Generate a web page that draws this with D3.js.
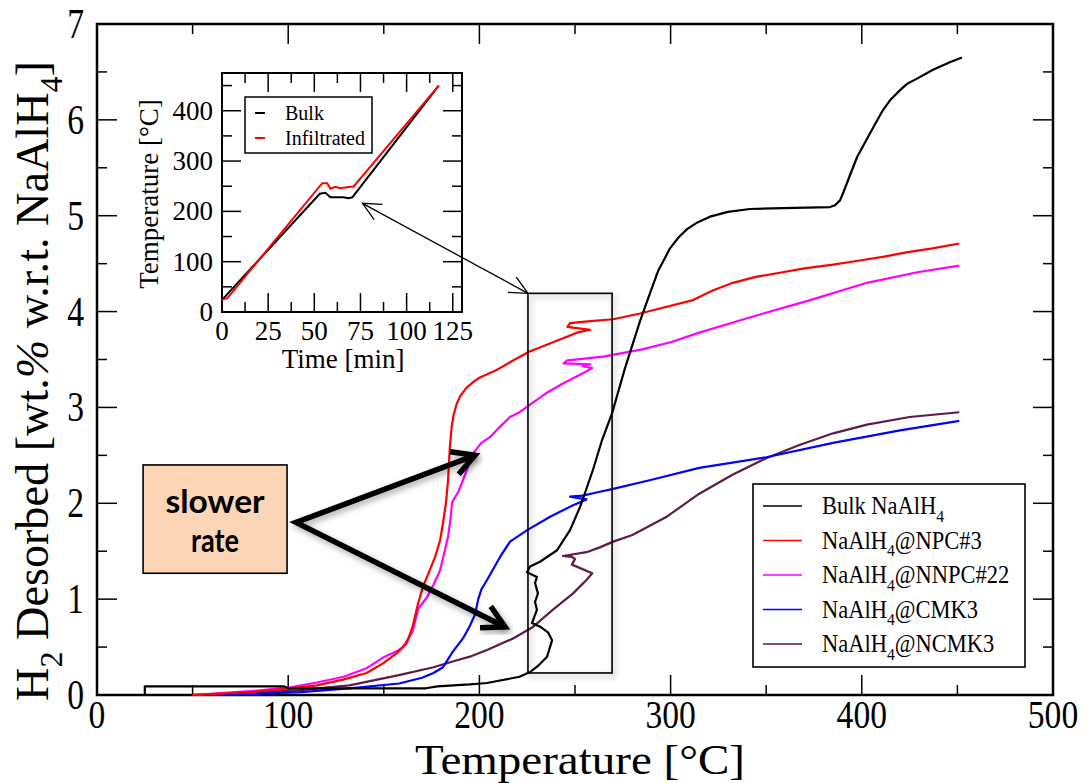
<!DOCTYPE html>
<html><head><meta charset="utf-8">
<script src="https://cdn.jsdelivr.net/npm/d3@7"></script>
<style>body{margin:0;background:#fff;} svg{display:block;}</style>
</head><body><svg id="chart" width="1088" height="783"></svg>
<script>
// ---------------- DATA ----------------
const bulkT = [25,25,98,100,172,178,195,204,221,226.5,231,235.4,238,236,232,227.5,230.1,229.1,230.6,229.1,230.1,224.9,226.5,231.7,240.6,247.4,252.6,256.3,259.4,264,269.4,276,284,289,293.4,299.7,304,308.6,314,320.6,330,341.5,358.8,383.4,386,388.6,390.5,392.8,397.5,404.3,411,415,420,424,428.9,437,446,452.4];
const bulkH = [0,0.09,0.09,0.07,0.07,0.09,0.11,0.125,0.19,0.24,0.31,0.40,0.57,0.65,0.71,0.75,0.89,0.97,1.06,1.17,1.23,1.28,1.34,1.39,1.51,1.72,1.96,2.17,2.35,2.65,2.94,3.40,3.90,4.18,4.42,4.66,4.77,4.86,4.93,4.99,5.04,5.07,5.08,5.09,5.11,5.16,5.25,5.37,5.61,5.86,6.10,6.21,6.31,6.38,6.43,6.52,6.60,6.65];

const npcT = [50,80,101,115,128.7,141,149.6,157,162,165,168,170.5,174,177,179.5,181,182.5,183.6,184.6,185.5,186.5,188,190,193.5,197,200,209,217.6,226,238.5,251,258,246,247.4,258,270,284,298,311.7,322,332.6,344,355.6,370,385,398,411,424,437,451];
const npcH = [0,0.03,0.07,0.10,0.16,0.23,0.33,0.44,0.54,0.71,0.96,1.13,1.30,1.45,1.62,1.80,2.00,2.24,2.60,2.80,2.92,3.03,3.12,3.21,3.27,3.31,3.39,3.49,3.58,3.68,3.78,3.81,3.84,3.88,3.90,3.92,3.98,4.05,4.12,4.22,4.30,4.36,4.40,4.45,4.49,4.53,4.57,4.62,4.66,4.71];

const nnpcT = [50,80,101,115,129,141,149.6,157,160,165,168,172.6,176,179.4,181.5,183.6,185,185.7,189,193.5,196.8,201,205.5,210.8,216,221,228,235,243.7,252.6,259,254,258,244,246,255,264.6,284,300,315,340,373,402.7,429,451];
const nnpcH = [0,0.04,0.08,0.13,0.19,0.28,0.39,0.46,0.50,0.66,0.90,1.02,1.15,1.30,1.47,1.65,1.85,2.01,2.12,2.35,2.52,2.63,2.69,2.80,2.90,2.95,3.05,3.15,3.25,3.34,3.41,3.43,3.45,3.46,3.49,3.51,3.53,3.60,3.68,3.78,3.93,4.12,4.30,4.41,4.48];

const cmkT = [60,80,106,132,158,170,176,181,186,191.4,195,197.7,199.4,201,204,210.8,216,225,237,249,256,247.4,254,263,270,289,315,350,385,420,451];
const cmkH = [0,0.01,0.03,0.07,0.12,0.18,0.23,0.29,0.45,0.59,0.72,0.84,1.00,1.10,1.20,1.44,1.60,1.72,1.86,1.98,2.04,2.07,2.08,2.12,2.15,2.24,2.37,2.48,2.63,2.76,2.86];

const ncmkT = [50,80,106,132,158.5,176,186,195,204,217.6,228,238.5,249,256,259,248.4,250,248.4,243.7,256,263,270,280,298,315,332.6,350,367.7,385,402.7,425,451];
const ncmkH = [0,0.02,0.05,0.10,0.21,0.29,0.35,0.40,0.47,0.59,0.71,0.89,1.06,1.20,1.27,1.36,1.42,1.44,1.45,1.49,1.54,1.60,1.67,1.86,2.10,2.30,2.47,2.61,2.73,2.82,2.90,2.95];

// inset: temperature program
const insetBulkTime = [0,4,53,56,58.7,65.8,68.5,70.6,117.4];
const insetBulkTemp = [24,40,235,237,228,228,226,228,450];
const insetInfTime = [0,3,54.3,57,58.7,61.4,64,69.6,71.2,117.4];
const insetInfTemp = [24,28,256,256,245,249,246,249,249,450];

const xTicks = [0,100,200,300,400,500];
const yTicks = [0,1,2,3,4,5,6,7];
const insetXTicks = [0,25,50,75,100,125];
const insetYTicks = [0,100,200,300,400];

const seriesNames = ["Bulk NaAlH|4|", "NaAlH|4|@NPC#3", "NaAlH|4|@NNPC#22", "NaAlH|4|@CMK3", "NaAlH|4|@NCMK3"];
const seriesColors = ["#000000", "#ff0000", "#ff00ff", "#0000ff", "#5e1a48"];
const insetNames = ["Bulk", "Infiltrated"];
const insetColors = ["#000000", "#ff0000"];

// ---------------- DRAWING ----------------
const svg = d3.select("#chart");
const serif = "'Liberation Serif','Times New Roman',serif";
const defs = svg.append("defs");
const f = defs.append("filter").attr("id","sh").attr("x","-30%").attr("y","-30%").attr("width","160%").attr("height","160%");
f.append("feDropShadow").attr("dx",2).attr("dy",3).attr("stdDeviation",3).attr("flood-color","#000").attr("flood-opacity",0.35);

const x = d3.scaleLinear().domain([0,500]).range([97,1053]);
const y = d3.scaleLinear().domain([0,7]).range([695,24]);

// helper: text with subscripts marked by |..|
function richText(g, tx, ty, str, size, opts={}) {
  const sx = opts.sx || 1;
  const t = g.append("text")
    .attr("transform", `translate(${tx},${ty}) ${opts.rot?`rotate(${opts.rot})`:''} scale(${sx},1)`)
    .attr("font-family", opts.family || serif)
    .attr("font-size", size)
    .attr("font-weight", opts.weight || "normal")
    .attr("text-anchor", opts.anchor || "start")
    .attr("fill", "#000");
  if (opts.len) t.attr("textLength", opts.len).attr("lengthAdjust","spacingAndGlyphs");
  const parts = str.split("|");
  parts.forEach((p,i) => {
    if (!p) return;
    const sp = t.append("tspan").text(p);
    if (i % 2 === 1) sp.attr("font-size", size*0.7).attr("dy", size*0.3);
    else if (i > 1) sp.attr("dy", -size*0.3);
  });
  return t;
}

// frame
svg.append("rect").attr("x",x(0)).attr("y",y(7)).attr("width",x(500)-x(0)).attr("height",y(0)-y(7))
  .attr("fill","none").attr("stroke","#000").attr("stroke-width",2.5);

// ticks (inward, all four sides)
const tk = svg.append("g").attr("stroke","#000").attr("stroke-width",1.5);
d3.range(50,500,50).forEach(v => {
  const L = v % 100 === 0 ? 20 : 10;
  tk.append("line").attr("x1",x(v)).attr("x2",x(v)).attr("y1",y(0)).attr("y2",y(0)-L);
  tk.append("line").attr("x1",x(v)).attr("x2",x(v)).attr("y1",y(7)).attr("y2",y(7)+L);
});
d3.range(0.5,7,0.5).forEach(v => {
  const L = Math.abs(v - Math.round(v)) < 1e-6 ? 20 : 10;
  tk.append("line").attr("y1",y(v)).attr("y2",y(v)).attr("x1",x(0)).attr("x2",x(0)+L);
  tk.append("line").attr("y1",y(v)).attr("y2",y(v)).attr("x1",x(500)).attr("x2",x(500)-L);
});

// tick labels
const tl = svg.append("g");
xTicks.forEach(v => richText(tl, x(v), 728, String(v), 41, {anchor:"middle", sx:0.82}));
yTicks.forEach(v => richText(tl, 84, y(v)+14, String(v), 42, {anchor:"end", sx:0.8}));

// axis titles
richText(svg, 580, 773.5, "Temperature [°C]", 43, {anchor:"middle", len:330});
const yl = svg.append("text")
  .attr("transform", `translate(48,381) rotate(-90)`)
  .attr("font-family", serif).attr("font-size",46).attr("text-anchor","middle")
  .attr("textLength",640).attr("lengthAdjust","spacingAndGlyphs");
yl.append("tspan").text("H");
yl.append("tspan").text("2").attr("font-size",32).attr("dy",14);
yl.append("tspan").text(" Desorbed [wt.").attr("dy",-14);
yl.append("tspan").text("%").attr("font-style","italic");
yl.append("tspan").text(" w.r.t. NaAlH");
yl.append("tspan").text("4").attr("font-size",32).attr("dy",14);
yl.append("tspan").text("]").attr("dy",-14);

// curves
const line = d3.line().x(d=>x(d[0])).y(d=>y(d[1]));
const series = [
  d3.zip(bulkT,bulkH), d3.zip(npcT,npcH), d3.zip(nnpcT,nnpcH), d3.zip(cmkT,cmkH), d3.zip(ncmkT,ncmkH)
];
[4,3,2,1,0].forEach(i => {
  svg.append("path").datum(series[i]).attr("d",line).attr("fill","none")
    .attr("stroke",seriesColors[i]).attr("stroke-width",2.2).attr("stroke-linejoin","round");
});

// annotation rectangle (in data units)
const rectX0 = 225.4, rectX1 = 269.4, rectY0 = 0.23, rectY1 = 4.19;
svg.append("rect").attr("x",x(rectX0)).attr("y",y(rectY1)).attr("width",x(rectX1)-x(rectX0)).attr("height",y(rectY0)-y(rectY1))
  .attr("fill","none").attr("stroke","#000").attr("stroke-width",1.6).attr("filter","url(#sh)");

// legend
const lg = svg.append("g");
lg.append("rect").attr("x",753).attr("y",484).attr("width",272).attr("height",183)
  .attr("fill","#fff").attr("stroke","#000").attr("stroke-width",1.6);
seriesNames.forEach((n,i) => {
  const yy = 506 + i*34.5;
  lg.append("line").attr("x1",763).attr("x2",802).attr("y1",yy).attr("y2",yy)
    .attr("stroke",seriesColors[i]).attr("stroke-width",1.6);
  richText(lg, 822, yy+8, n, 25, {sx:0.9});
});

// inset
const ix = d3.scaleLinear().domain([0,130]).range([222,462]);
const iy = d3.scaleLinear().domain([0,475]).range([312,73]);
const ins = svg.append("g");
ins.append("rect").attr("x",ix(0)).attr("y",iy(475)).attr("width",ix(130)-ix(0)).attr("height",iy(0)-iy(475))
  .attr("fill","#fff").attr("stroke","#000").attr("stroke-width",2);
d3.range(12.5,130,12.5).forEach(v => {
  const L = v % 25 === 0 ? 19 : 10;
  ins.append("line").attr("x1",ix(v)).attr("x2",ix(v)).attr("y1",iy(0)).attr("y2",iy(0)-L).attr("stroke","#000").attr("stroke-width",1.5);
  ins.append("line").attr("x1",ix(v)).attr("x2",ix(v)).attr("y1",iy(475)).attr("y2",iy(475)+L).attr("stroke","#000").attr("stroke-width",1.5);
});
d3.range(50,475,50).forEach(v => {
  const L = v % 100 === 0 ? 19 : 10;
  ins.append("line").attr("y1",iy(v)).attr("y2",iy(v)).attr("x1",ix(0)).attr("x2",ix(0)+L).attr("stroke","#000").attr("stroke-width",1.5);
  ins.append("line").attr("y1",iy(v)).attr("y2",iy(v)).attr("x1",ix(130)).attr("x2",ix(130)-L).attr("stroke","#000").attr("stroke-width",1.5);
});
insetXTicks.forEach(v => richText(ins, ix(v), 340, String(v), 27, {anchor:"middle"}));
insetYTicks.forEach(v => richText(ins, 213, iy(v)+9, String(v), 27, {anchor:"end"}));
richText(ins, 343, 368, "Time [min]", 27, {anchor:"middle"});
richText(ins, 158, 194, "Temperature [°C]", 27, {anchor:"middle", rot:-90});
const iline = d3.line().x(d=>ix(d[0])).y(d=>iy(d[1]));
ins.append("path").datum(d3.zip(insetBulkTime,insetBulkTemp)).attr("d",iline).attr("fill","none").attr("stroke",insetColors[0]).attr("stroke-width",2);
ins.append("path").datum(d3.zip(insetInfTime,insetInfTemp)).attr("d",iline).attr("fill","none").attr("stroke",insetColors[1]).attr("stroke-width",2);
ins.append("rect").attr("x",245).attr("y",97).attr("width",127).attr("height",56).attr("fill","#fff").attr("stroke","#000").attr("stroke-width",1.5);
insetNames.forEach((n,i) => {
  const yy = 113 + i*25;
  ins.append("line").attr("x1",255).attr("x2",265).attr("y1",yy).attr("y2",yy).attr("stroke",insetColors[i]).attr("stroke-width",2);
  richText(ins, 285, yy+7, n, 20, {});
});

// "slower rate" box
const boxX0 = 24.1, boxX1 = 99.4, boxY0 = 1.27, boxY1 = 2.40;
svg.append("rect").attr("x",x(boxX0)).attr("y",y(boxY1)).attr("width",x(boxX1)-x(boxX0)).attr("height",y(boxY0)-y(boxY1))
  .attr("fill","#fbd5b5").attr("stroke","#000").attr("stroke-width",1.6);
const cx = (x(boxX0)+x(boxX1))/2;
richText(svg, cx, 513, "slower", 33, {anchor:"middle", family:"Lato,'Open Sans',sans-serif", weight:"bold", len:99});
richText(svg, cx, 552, "rate", 33, {anchor:"middle", family:"Lato,'Open Sans',sans-serif", weight:"bold", len:48});

// arrows
function chevron(g, tip, from, len, ang, sw, filt) {
  const dx = from[0]-tip[0], dy = from[1]-tip[1], d = Math.hypot(dx,dy);
  const ux = dx/d, uy = dy/d;
  const rot = a => [tip[0] + len*(ux*Math.cos(a) - uy*Math.sin(a)), tip[1] + len*(ux*Math.sin(a) + uy*Math.cos(a))];
  const a1 = rot(ang), a2 = rot(-ang);
  const p = g.append("path").attr("d",`M${a1[0]},${a1[1]}L${tip[0]},${tip[1]}L${a2[0]},${a2[1]}`)
    .attr("fill","none").attr("stroke","#000").attr("stroke-width",sw).attr("stroke-linejoin","miter");
  if (filt) p.attr("filter",filt);
}
const vertex = [x(104.1), y(1.80)];
const tipA = [x(197.7), y(2.50)];
const tipB = [x(213.4), y(0.71)];
const ag = svg.append("g");
ag.append("path").attr("d",`M${tipA[0]},${tipA[1]}L${vertex[0]},${vertex[1]}L${tipB[0]},${tipB[1]}`)
  .attr("fill","none").attr("stroke","#000").attr("stroke-width",5.5).attr("stroke-linejoin","miter").attr("filter","url(#sh)");
chevron(ag, tipA, vertex, 25, 0.5, 5.5, "url(#sh)");
chevron(ag, tipB, vertex, 25, 0.5, 5.5, "url(#sh)");

// thin double arrow: inset point to rectangle corner
const pA = [ix(76.1), iy(216)];
const pB = [x(rectX0), y(rectY1)];
svg.append("line").attr("x1",pA[0]).attr("y1",pA[1]).attr("x2",pB[0]).attr("y2",pB[1]).attr("stroke","#000").attr("stroke-width",1.3);
chevron(svg, pA, pB, 20, 0.45, 1.3);
chevron(svg, pB, pA, 20, 0.45, 1.3);
</script>
</body></html>
